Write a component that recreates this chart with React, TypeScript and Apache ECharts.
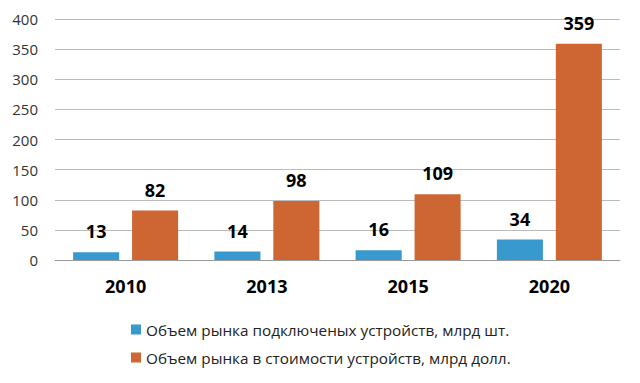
import React, { useEffect, useRef } from "react";
import * as echarts from "echarts";

const categories = ["2010", "2013", "2015", "2020"];
const devicesCount = [13, 14, 16, 34];
const devicesValue = [82, 98, 109, 359];
const seriesNames = [
  "Объем рынка подключеных устройств, млрд шт.",
  "Объем рынка в стоимости устройств, млрд долл.",
];

const FONT = "'Open Sans', 'Liberation Sans', sans-serif";

export default function App() {
  const ref = useRef<HTMLDivElement>(null);
  useEffect(() => {
    if (!ref.current) return;
    const chart = echarts.init(ref.current, undefined, { renderer: "svg" });
    const label = {
      show: true,
      position: "top",
      distance: 12,
      color: "#000",
      fontWeight: "bold",
      fontSize: 18,
      fontFamily: FONT,
    };
    chart.setOption({
      animation: false,
      textStyle: { fontFamily: FONT },
      grid: { left: 47, right: 12, top: 11, bottom: 115, containLabel: false },
      legend: {
        orient: "vertical",
        left: 118,
        top: 309,
        itemGap: 13,
        itemWidth: 10,
        itemHeight: 10,
        icon: "rect",
        textStyle: { fontSize: 15.3, color: "#222", fontFamily: FONT },
        data: seriesNames,
      },
      xAxis: {
        type: "category",
        data: categories,
        axisLine: { show: true, lineStyle: { color: "#999", width: 1 } },
        axisTick: { show: false },
        axisLabel: {
          color: "#000",
          fontWeight: "bold",
          fontSize: 18,
          margin: 17,
          fontFamily: FONT,
        },
      },
      yAxis: {
        type: "value",
        min: 0,
        max: 400,
        interval: 50,
        axisLine: { show: false },
        axisTick: { show: false },
        splitLine: { lineStyle: { color: "#bbb", width: 1 } },
        axisLabel: { color: "#333", fontSize: 15, margin: 17, fontFamily: FONT },
      },
      series: [
        {
          name: seriesNames[0],
          type: "bar",
          data: devicesCount,
          barWidth: "32.6%",
          barGap: "28%",
          itemStyle: { color: "#3799CE" },
          label,
        },
        {
          name: seriesNames[1],
          type: "bar",
          data: devicesValue,
          barWidth: "32.6%",
          barGap: "28%",
          itemStyle: { color: "#CD6633" },
          label,
        },
      ],
    });
    return () => chart.dispose();
  }, []);
  return <div ref={ref} style={{ width: 624, height: 367 }} />;
}
